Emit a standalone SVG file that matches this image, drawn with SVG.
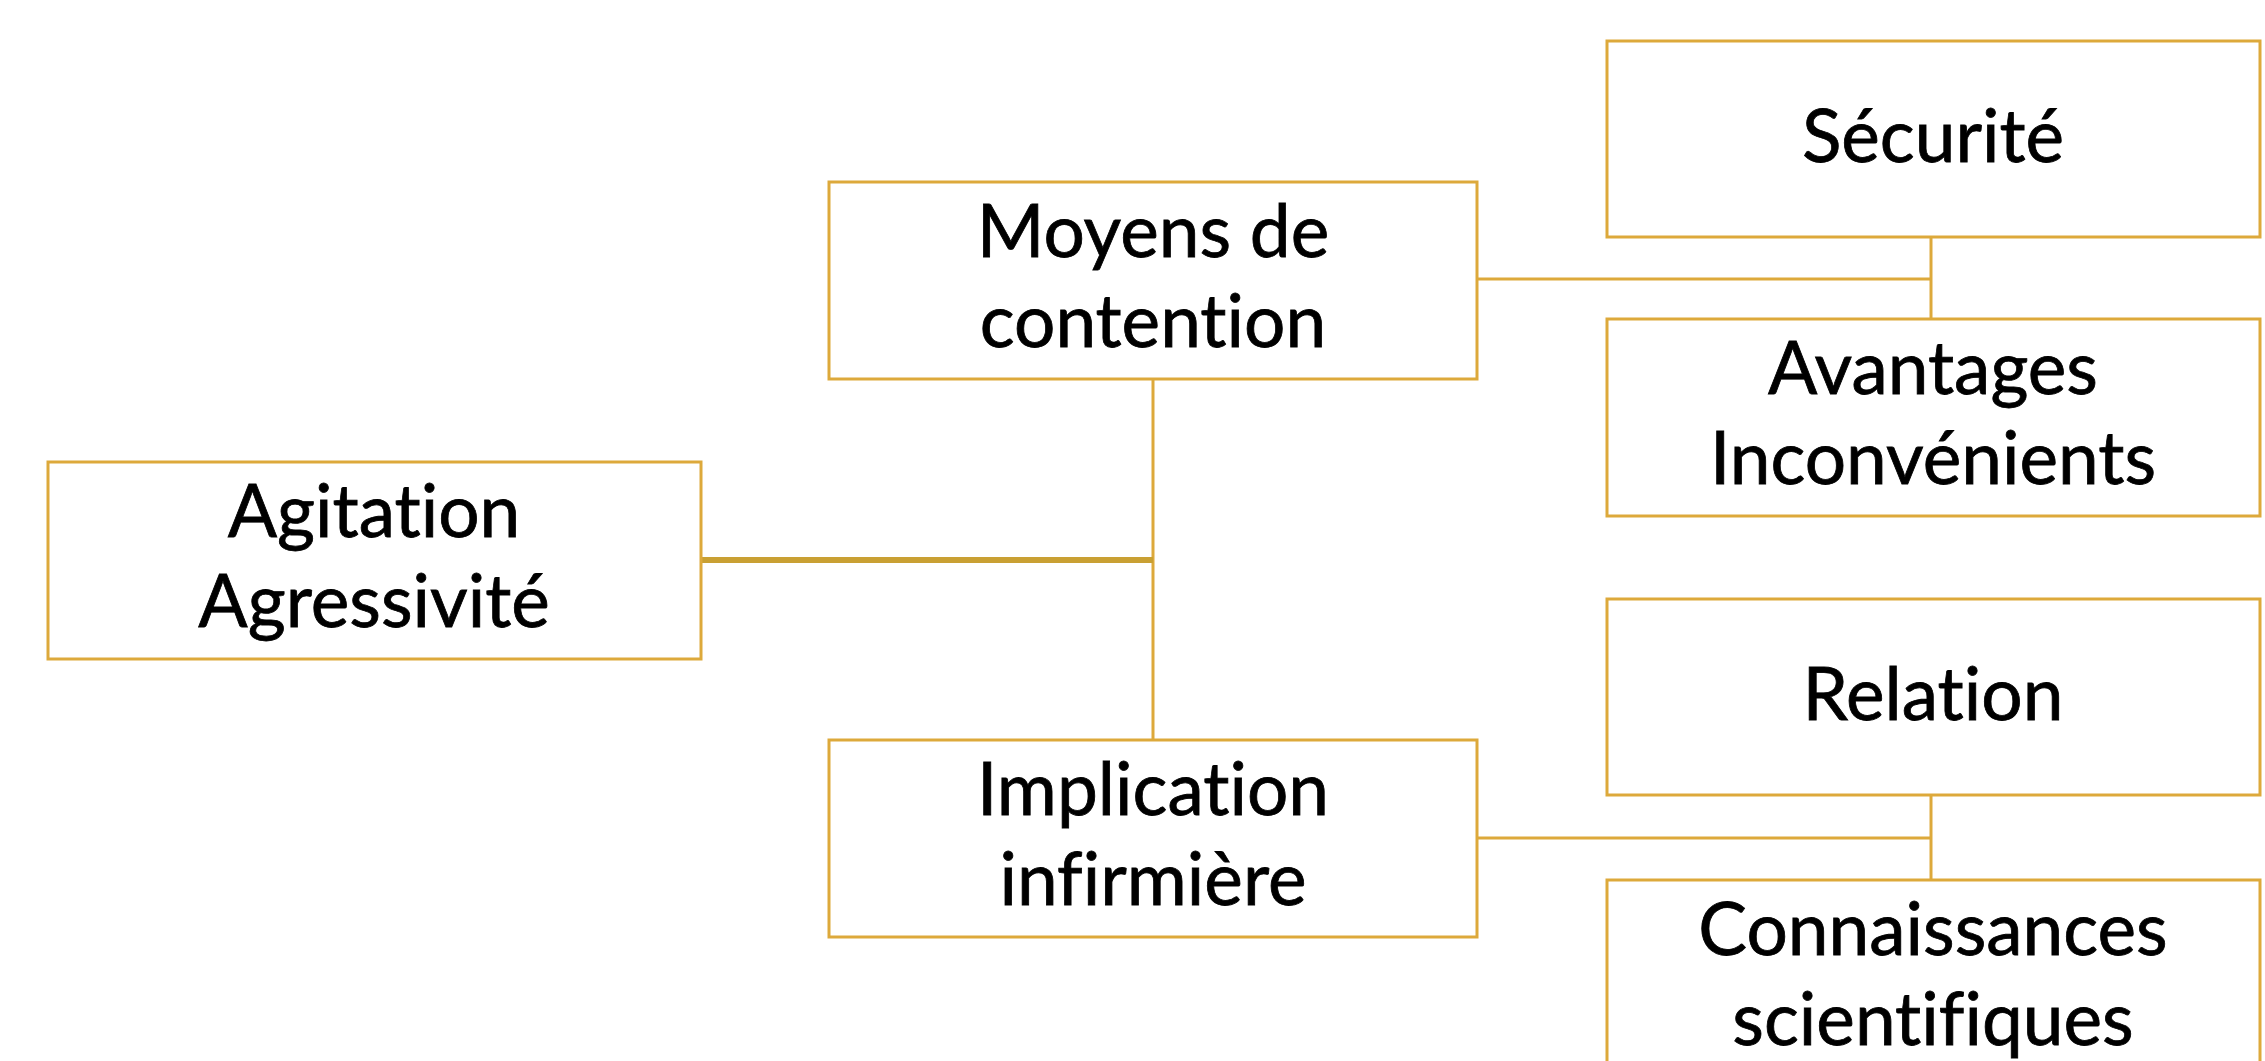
<svg xmlns="http://www.w3.org/2000/svg" width="2265" height="1061" viewBox="0 0 2265 1061">
  <style>
    .box { fill: #ffffff; stroke: #DDA93B; stroke-width: 3; }
    .lbl { font-family: "Lato", "Liberation Sans", sans-serif; font-size: 73px; fill: #000000; stroke: #000000; stroke-width: 0.8; text-anchor: middle; font-variant-ligatures: none; font-feature-settings: "liga" 0; }
    .conn { fill: none; stroke: #DDA93B; stroke-width: 3; }
    .conn-thick { fill: none; stroke: #C9A033; stroke-width: 6; }
  </style>
  <rect x="0" y="0" width="2265" height="1061" fill="#ffffff"/>
  <g id="connectors">
    <line class="conn" x1="1153" y1="379" x2="1153" y2="740"/>
    <line class="conn-thick" x1="701" y1="560" x2="1153" y2="560"/>
    <line class="conn" x1="1477" y1="279" x2="1931" y2="279"/>
    <line class="conn" x1="1931" y1="237" x2="1931" y2="319"/>
    <line class="conn" x1="1477" y1="838" x2="1931" y2="838"/>
    <line class="conn" x1="1931" y1="795" x2="1931" y2="880"/>
  </g>
  <g id="node-agitation">
    <rect class="box" x="48" y="462" width="653" height="197"/>
    <text class="lbl" x="374" y="537">Agitation</text>
    <text class="lbl" x="374" y="627">Agressivité</text>
  </g>
  <g id="node-moyens">
    <rect class="box" x="829" y="182" width="648" height="197"/>
    <text class="lbl" x="1153" y="257">Moyens de</text>
    <text class="lbl" x="1153" y="347">contention</text>
  </g>
  <g id="node-implication">
    <rect class="box" x="829" y="740" width="648" height="197"/>
    <text class="lbl" x="1153" y="815">Implication</text>
    <text class="lbl" x="1153" y="905">infirmière</text>
  </g>
  <g id="node-securite">
    <rect class="box" x="1607" y="41" width="653" height="196"/>
    <text class="lbl" x="1933" y="162">Sécurité</text>
  </g>
  <g id="node-avantages">
    <rect class="box" x="1607" y="319" width="653" height="197"/>
    <text class="lbl" x="1933" y="394">Avantages</text>
    <text class="lbl" x="1933" y="484">Inconvénients</text>
  </g>
  <g id="node-relation">
    <rect class="box" x="1607" y="599" width="653" height="196"/>
    <text class="lbl" x="1933" y="720">Relation</text>
  </g>
  <g id="node-connaissances">
    <rect class="box" x="1607" y="880" width="653" height="197"/>
    <text class="lbl" x="1933" y="955">Connaissances</text>
    <text class="lbl" x="1933" y="1045">scientifiques</text>
  </g>
</svg>
